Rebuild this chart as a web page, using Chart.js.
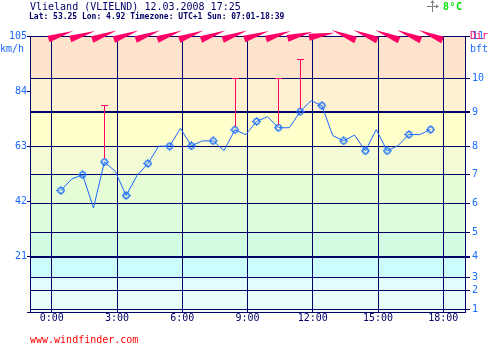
<!DOCTYPE html>
<html>
<head>
<meta charset="utf-8">
<script src="https://cdn.jsdelivr.net/npm/chart.js@4.4.0/dist/chart.umd.min.js"></script>
<style>
  html, body { margin: 0; padding: 0; background: #fff; }
  #wrap { position: relative; width: 495px; height: 348px; overflow: hidden; }
  #c { position: absolute; left: 0; top: 0; }
  .t { position: absolute; font-family: "DejaVu Sans Mono", monospace; white-space: nowrap; }
</style>
</head>
<body>
<div id="wrap">
  <canvas id="c" width="495" height="348"></canvas>
  <div class="t" style="left:30px; top:1px; font-size:10px; line-height:12px; color:#000066;">Vlieland (VLIELND) 12.03.2008 17:25</div>
  <div class="t" style="left:29px; top:12px; font-size:8px; line-height:10px; font-weight:bold; color:#000066;">Lat: 53.25 Lon: 4.92 Timezone: UTC+1 Sun: 07:01-18:39</div>
  <div class="t" style="left:443px; top:1px; font-size:10px; line-height:12px; font-weight:bold; letter-spacing:0.5px; color:#00e600;">8°C</div>
  <div class="t" style="left:0px; top:43px; font-size:10px; line-height:12px; color:#1a6cff;">km/h</div>
  <div class="t" style="left:470px; top:30px; font-size:10px; line-height:12px; color:#ff0066;">Dir</div>
  <div class="t" style="left:470px; top:43px; font-size:10px; line-height:12px; color:#1a6cff;">bft</div>
  <div class="t" style="left:30px; top:334px; font-size:10px; line-height:12px; color:#ff0000;">www.windfinder.com</div>
</div>
<script>
// measurements (hours after midnight, km/h)
const times = [0.42, 0.92, 1.42, 1.92, 2.42, 2.92, 3.42, 3.92, 4.42, 4.92, 5.42, 5.92,
  6.42, 6.92, 7.42, 7.92, 8.42, 8.92, 9.42, 9.92, 10.42, 10.92, 11.42, 11.92,
  12.42, 12.92, 13.42, 13.92, 14.42, 14.92, 15.42, 15.92, 16.42, 16.92, 17.42];
const speed = [46.2, 50.6, 52.2, 39.6, 57.1, 53.5, 44.3, 51.9, 56.5, 63.1, 63.1, 69.9,
  63.2, 65.1, 65.1, 61.4, 69.3, 67.5, 72.5, 74.3, 70.1, 70.1, 76.2, 80.4,
  78.5, 67.1, 65.1, 67.3, 61.3, 69.4, 61.3, 63.3, 67.5, 67.5, 69.4];

// gusts
const gustTimes = [2.42, 8.42, 10.42, 11.42];
const gustValues = [78.6, 89.1, 89.1, 96.4];

// wind direction arrows (tip angle, degrees counter-clockwise from east)
const dirTimes = [0.42, 1.42, 2.42, 3.42, 4.42, 5.42, 6.42, 7.42, 8.42, 9.42,
  10.42, 11.42, 12.42, 13.42, 14.42, 15.42, 16.42, 17.42];
const dirTip = [18, 18, 20, 20, 20, 20, 20, 20, 20, 18, 18, 15, 10, 157, 157, 157, 157, 157];

// axes
const timeTicks = [0, 3, 6, 9, 12, 15, 18];
const kmhTicks = [0, 21, 42, 63, 84, 105];
const bftLevels = [1, 2, 3, 4, 5, 6, 7, 8, 9, 10, 11];
const bftKmh = [1.1, 8.3, 13.1, 21, 30.2, 41.2, 52.2, 63, 76, 89, 105];
const bandColors = ['#f0fcfc', '#e8fcfc', '#e0fcfc', '#ccfcfc', '#d2fce2', '#dcfcdc',
  '#e6fcd6', '#f2fbd6', '#ffffcc', '#fef1d2', '#fde3cc'];

const navy = '#000066';
const blue = '#1a6cff';
const pink = '#ff0066';
const mono = 'DejaVu Sans Mono';

// point marker: ring with four little ticks
const mk = document.createElement('canvas');
mk.width = 9; mk.height = 9;
const m = mk.getContext('2d');
m.strokeStyle = blue; m.lineWidth = 1.3;
m.beginPath(); m.arc(4.5, 4.5, 2.8, 0, Math.PI * 2); m.stroke();
m.lineWidth = 1;
m.beginPath();
m.moveTo(4.5, 0); m.lineTo(4.5, 1.5); m.moveTo(4.5, 7.5); m.lineTo(4.5, 9);
m.moveTo(0, 4.5); m.lineTo(1.5, 4.5); m.moveTo(7.5, 4.5); m.lineTo(9, 4.5);
m.stroke();

const extras = {
  id: 'extras',
  beforeDraw(chart) {
    const { ctx, chartArea: a, scales: { y } } = chart;
    ctx.save();
    let lo = 0;
    bandColors.forEach((col, i) => {
      const hi = bftKmh[i];
      const y1 = y.getPixelForValue(hi), y0 = y.getPixelForValue(lo);
      ctx.fillStyle = col;
      ctx.fillRect(a.left, y1, a.right - a.left, y0 - y1);
      lo = hi;
    });
    ctx.restore();
  },
  afterDatasetsDraw(chart) {
    const { ctx, scales: { x, y } } = chart;
    ctx.save();
    // gust bars
    ctx.strokeStyle = pink; ctx.lineWidth = 1;
    gustTimes.forEach((t, i) => {
      const px = Math.round(x.getPixelForValue(t)) + 0.5;
      const base = speed[times.indexOf(t)];
      const yb = y.getPixelForValue(base) - 3;
      const yt = Math.round(y.getPixelForValue(gustValues[i])) + 0.5;
      ctx.beginPath();
      ctx.moveTo(px, yb); ctx.lineTo(px, yt);
      ctx.moveTo(px - 3.5, yt); ctx.lineTo(px + 3.5, yt);
      ctx.stroke();
    });
    // direction wedges along the top
    ctx.fillStyle = pink;
    const top = y.getPixelForValue(105);
    dirTimes.forEach((t, i) => {
      const cx = x.getPixelForValue(t), cy = top - 1;
      const a = dirTip[i] * Math.PI / 180;
      const dx = Math.cos(a), dy = -Math.sin(a);
      const L = 13, W = 3.5;
      const tx = cx + dx * L, ty = cy + dy * L;
      const bx = cx - dx * L, by = cy - dy * L;
      ctx.beginPath();
      ctx.moveTo(tx, ty);
      ctx.lineTo(bx - dy * W, by + dx * W);
      ctx.lineTo(bx + dy * W, by - dx * W);
      ctx.closePath();
      ctx.fill();
    });
    ctx.restore();
  },
  afterDraw(chart) {
    // small compass mark next to the temperature
    const { ctx } = chart;
    ctx.save();
    ctx.strokeStyle = '#808080'; ctx.fillStyle = '#808080'; ctx.lineWidth = 1;
    ctx.beginPath();
    ctx.moveTo(432.5, 1); ctx.lineTo(432.5, 12);
    ctx.moveTo(427, 6.5); ctx.lineTo(438, 6.5);
    ctx.stroke();
    ctx.beginPath(); ctx.moveTo(432.5, 0); ctx.lineTo(430.5, 3); ctx.lineTo(434.5, 3); ctx.fill();
    ctx.beginPath(); ctx.moveTo(439, 6.5); ctx.lineTo(436, 4.5); ctx.lineTo(436, 8.5); ctx.fill();
    ctx.restore();
  }
};

new Chart(document.getElementById('c').getContext('2d'), {
  type: 'line',
  data: {
    datasets: [{
      data: times.map((t, i) => ({ x: t, y: speed[i] })),
      borderColor: blue,
      borderWidth: 1,
      tension: 0,
      pointStyle: ctx => ctx.dataIndex % 2 === 0 ? mk : false,
      pointRadius: ctx => ctx.dataIndex % 2 === 0 ? 4 : 0,
      pointHoverRadius: 0
    }]
  },
  options: {
    responsive: false,
    devicePixelRatio: 1,
    animation: false,
    events: [],
    layout: { padding: { top: 36, left: 0, right: 0, bottom: 0 } },
    plugins: { legend: { display: false }, tooltip: { enabled: false }, title: { display: false } },
    scales: {
      x: {
        type: 'linear', min: -1, max: 19,
        afterBuildTicks: s => { s.ticks = timeTicks.map(v => ({ value: v })); },
        afterFit: s => { s.height = 36; },
        grid: { color: navy, lineWidth: 1, drawTicks: false },
        border: { color: navy, width: 1 },
        ticks: { color: navy, font: { family: mono, size: 10 }, padding: 0, maxRotation: 0, autoSkip: false,
          callback: v => v + ':00' }
      },
      y: {
        position: 'left', min: 0, max: 105,
        afterBuildTicks: s => { s.ticks = kmhTicks.map(v => ({ value: v })); },
        afterFit: s => { s.width = 30; },
        grid: { drawOnChartArea: false, color: navy, tickLength: 3 },
        border: { color: navy, width: 1 },
        ticks: { color: blue, font: { family: mono, size: 10 }, padding: 0, autoSkip: false,
          callback: v => v === 0 ? '' : String(v) }
      },
      yR: {
        position: 'right', min: 0, max: 105,
        afterBuildTicks: s => { s.ticks = bftKmh.map(v => ({ value: v })); },
        afterFit: s => { s.width = 30; },
        grid: { color: navy, tickLength: 5,
          lineWidth: c => (c.tick && (c.tick.value === 76 || c.tick.value === 21)) ? 2 : 1 },
        border: { color: navy, width: 1 },
        ticks: { color: blue, font: { family: mono, size: 10 }, padding: 2, autoSkip: false,
          callback: (v, i) => String(bftLevels[i]) }
      }
    }
  },
  plugins: [extras]
});
</script>
</body>
</html>
